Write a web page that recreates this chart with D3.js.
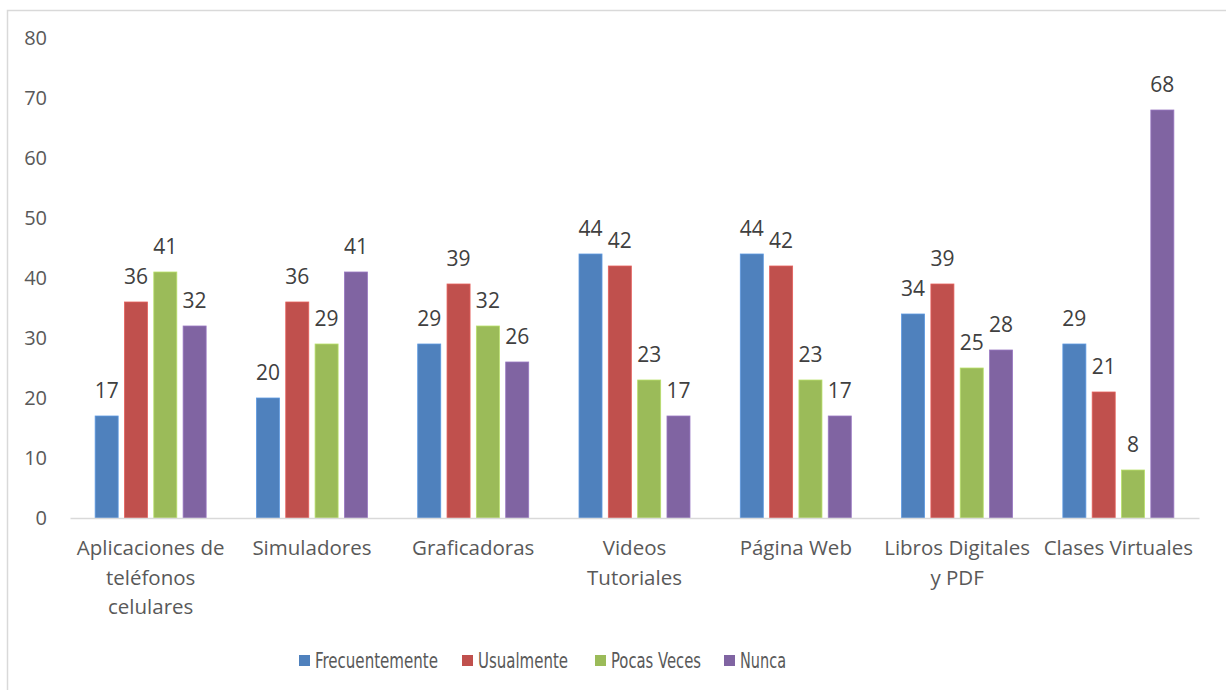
<!DOCTYPE html>
<html>
<head>
  <meta charset="utf-8">
  <title>Uso de recursos digitales</title>
  <script src="https://d3js.org/d3.v7.min.js"></script>
  <style>
    body { margin: 0; background: #fff; }
    text { font-family: "Open Sans", "Liberation Sans", sans-serif; }
    .legend text { font-family: "Liberation Sans Narrow", "DejaVu Sans Condensed", "Roboto", sans-serif; }
  </style>
</head>
<body>
  <div id="chart"></div>

  <script>
    // Categories (line breaks as in the original chart)
    const categories = [
      "Aplicaciones de\nteléfonos\ncelulares",
      "Simuladores",
      "Graficadoras",
      "Videos\nTutoriales",
      "Página Web",
      "Libros Digitales\ny PDF",
      "Clases Virtuales"
    ];
    const seriesNames = ["Frecuentemente", "Usualmente", "Pocas Veces", "Nunca"];
    const frecuentemente = [17, 20, 29, 44, 44, 34, 29];
    const usualmente = [36, 36, 39, 42, 42, 39, 21];
    const pocasVeces = [41, 29, 32, 23, 23, 25, 8];
    const nunca = [32, 41, 26, 17, 17, 28, 68];
    const yTicks = [0, 10, 20, 30, 40, 50, 60, 70, 80];

    const colors = ["#4f81bd", "#c0504d", "#9bbb59", "#8064a2"];
    const seriesValues = [frecuentemente, usualmente, pocasVeces, nunca];

    const width = 1226, height = 690;
    const margin = { top: 38, right: 27, bottom: 172, left: 70 };
    const innerWidth = width - margin.left - margin.right;
    const innerHeight = height - margin.top - margin.bottom;

    const svg = d3.select("#chart").append("svg")
      .attr("width", width)
      .attr("height", height);

    // chart border (only left and top edges fall inside the picture)
    svg.append("path")
      .attr("d", `M7.5,${height} V10.5 H${width}`)
      .attr("fill", "none")
      .attr("stroke", "#d9d9d9")
      .attr("stroke-width", 1.5);

    const g = svg.append("g")
      .attr("transform", `translate(${margin.left}, ${margin.top})`);

    const x0 = d3.scaleBand()
      .domain(d3.range(categories.length))
      .range([0, innerWidth])
      .padding(0);

    const groupW = 111;
    const x1 = d3.scaleBand()
      .domain(d3.range(seriesNames.length))
      .range([(x0.bandwidth() - groupW) / 2, (x0.bandwidth() + groupW) / 2])
      .paddingInner(0.215)
      .paddingOuter(0);

    const y = d3.scaleLinear()
      .domain([0, 80])
      .range([innerHeight, 0]);

    // y axis labels
    const yAxis = g.append("g")
      .call(d3.axisLeft(y).tickValues(yTicks).tickSize(0).tickPadding(23));
    yAxis.select(".domain").remove();
    yAxis.selectAll("text")
      .attr("font-size", 20)
      .attr("fill", "#595959")
      .style("font-family", "'Open Sans', sans-serif");

    // bars
    const groups = g.selectAll("g.cat")
      .data(categories.map((c, i) => i))
      .enter().append("g")
      .attr("class", "cat")
      .attr("transform", i => `translate(${x0(i)},0)`);

    groups.selectAll("rect")
      .data(i => seriesValues.map((vals, s) => ({ s, v: vals[i] })))
      .enter().append("rect")
      .attr("x", d => x1(d.s))
      .attr("y", d => y(d.v))
      .attr("width", x1.bandwidth())
      .attr("height", d => innerHeight - y(d.v))
      .attr("fill", d => colors[d.s])
      .attr("stroke", d => d3.color(colors[d.s]).brighter(0.5))
      .attr("stroke-width", 0.8);

    groups.selectAll("text.val")
      .data(i => seriesValues.map((vals, s) => ({ s, v: vals[i] })))
      .enter().append("text")
      .attr("class", "val")
      .attr("x", d => x1(d.s) + x1.bandwidth() / 2)
      .attr("y", d => y(d.v) - 18)
      .attr("text-anchor", "middle")
      .attr("font-size", 21)
      .attr("fill", "#404040")
      .text(d => d.v);

    // x axis
    const xAxis = g.append("g")
      .attr("transform", `translate(0, ${innerHeight})`)
      .call(d3.axisBottom(x0).tickSize(0).tickFormat(""));
    xAxis.select(".domain")
      .attr("stroke", "#d9d9d9")
      .attr("stroke-width", 1.5);

    // category labels
    g.selectAll("text.cat")
      .data(categories)
      .enter().append("text")
      .attr("class", "cat")
      .attr("x", (d, i) => x0(i) + x0.bandwidth() / 2)
      .attr("y", innerHeight + 37)
      .attr("text-anchor", "middle")
      .attr("font-size", 20.5)
      .attr("fill", "#595959")
      .each(function(d) {
        const t = d3.select(this);
        d.split("\n").forEach((line, k) => {
          t.append("tspan")
            .attr("x", t.attr("x"))
            .attr("dy", k === 0 ? 0 : 29.5)
            .text(line);
        });
      });

    // legend
    const legendX = [299, 462, 595, 724];
    const legendW = [123, 90, 90, 46];
    const legend = svg.append("g").attr("class", "legend");
    seriesNames.forEach((name, s) => {
      legend.append("rect")
        .attr("x", legendX[s]).attr("y", 655)
        .attr("width", 11).attr("height", 11)
        .attr("fill", colors[s]);
      legend.append("text")
        .attr("x", legendX[s] + 16).attr("y", 668)
        .attr("font-size", 21)
        .attr("fill", "#595959")
        .attr("textLength", legendW[s])
        .attr("lengthAdjust", "spacingAndGlyphs")
        .text(name);
    });
  </script>
</body>
</html>
